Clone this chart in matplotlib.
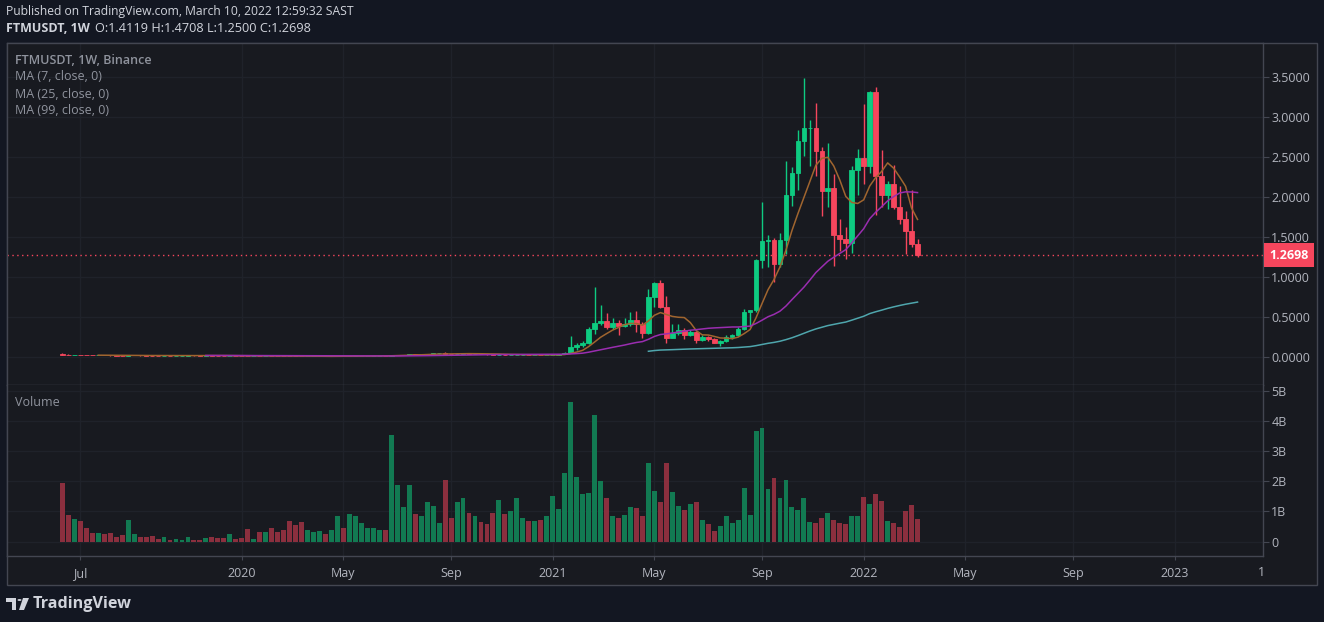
import numpy as np
import pandas as pd
import matplotlib
matplotlib.use("Agg")
import matplotlib.pyplot as plt
import matplotlib.transforms as mtransforms
from matplotlib.patches import Rectangle, Polygon, Circle

plt.rcParams["font.family"] = ["Open Sans", "DejaVu Sans"]

W, H = 1324, 622

# weekly bars, first one is the week of 2019-06-10
first_week = "2019-06-10"

opens = [
    .036, .020, .018, .021, .019, .017, .016, .018, .016, .015, .014, .013,
    .016, .017, .015, .014, .013, .012, .013, .012, .013, .014, .016, .015,
    .014, .015, .014, .013, .012, .013, .012, .011, .010, .011, .010, .012,
    .011, .010, .009, .007, .004, .0035, .004, .0045, .005, .0045, .005, .0065,
    .006, .007, .008, .009, .010, .011, .012, .011, .018, .022, .024, .030,
    .027, .030, .036, .040, .042, .036, .033, .037, .041, .037, .039, .034,
    .028, .024, .027, .022, .024, .026, .027, .022, .024, .018, .019, .021,
    .030, .052, .122, .143, .170, .346, .422, .447, .372, .426, .385, .41,
    .46, .41, .297, .748, .92, .623, .238, .297, .335, .27, .31, .213,
    .25, .225, .175, .20, .25, .268, .347, .556, .585, 1.21, 1.45, 1.46,
    1.16, 1.46, 2.02, 2.30, 2.70, 2.86, 2.87, 2.58, 2.07, 2.11, 1.53, 1.48,
    1.42, 2.34, 2.49, 2.39, 3.32, 2.27, 2.02, 2.17, 1.88, 1.72, 1.57, 1.4119,
]
highs = [
    .048, .030, .024, .023, .020, .018, .019, .019, .017, .016, .015, .017,
    .018, .018, .016, .015, .014, .014, .014, .014, .015, .017, .017, .016,
    .016, .016, .015, .014, .014, .014, .013, .012, .012, .012, .013, .013,
    .012, .011, .010, .008, .005, .0045, .005, .0055, .0055, .0055, .007, .007,
    .0075, .0085, .0095, .011, .012, .013, .013, .020, .024, .026, .033, .032,
    .032, .038, .043, .046, .059, .039, .040, .044, .043, .041, .040, .035,
    .029, .029, .028, .026, .027, .029, .028, .025, .025, .020, .022, .032,
    .058, .26, .17, .197, .368, .874, .648, .548, .48, .46, .49, .56,
    .573, .439, .848, .94, .96, .76, .41, .41, .36, .335, .32, .267,
    .26, .24, .21, .27, .29, .368, .594, .59, 1.23, 1.94, 1.52, 1.49,
    1.55, 2.45, 2.38, 2.84, 3.49, 2.97, 3.18, 2.63, 2.68, 2.29, 1.72, 1.62,
    2.39, 2.60, 3.17, 3.33, 3.38, 2.59, 2.20, 2.40, 2.14, 1.82, 2.09, 1.4708,
]
lows = [
    .016, .016, .017, .018, .016, .015, .015, .015, .014, .013, .012, .012,
    .015, .014, .013, .012, .012, .011, .011, .011, .012, .013, .014, .013,
    .013, .013, .012, .011, .011, .011, .010, .009, .009, .009, .010, .010,
    .009, .008, .006, .003, .003, .003, .0035, .004, .004, .004, .0045, .0055,
    .0055, .0065, .0075, .0085, .0095, .010, .010, .011, .016, .020, .022, .025,
    .026, .028, .034, .037, .033, .030, .031, .035, .034, .034, .032, .026,
    .022, .023, .021, .021, .022, .025, .021, .021, .017, .017, .018, .020,
    .028, .045, .083, .117, .163, .288, .40, .343, .343, .276, .376, .38,
    .314, .234, .28, .623, .607, .176, .23, .27, .217, .26, .175, .197,
    .20, .17, .138, .18, .22, .255, .34, .376, .56, 1.115, 1.12, .94,
    1.12, 1.29, 1.89, 2.09, 2.52, 2.39, 2.26, 1.76, 1.88, 1.14, 1.33, 1.23,
    1.30, 2.02, 2.17, 2.30, 1.77, 1.88, 1.85, 1.85, 1.66, 1.29, 1.38, 1.25,
]
closes = [
    .020, .018, .021, .019, .017, .016, .018, .016, .015, .014, .013, .016,
    .017, .015, .014, .013, .012, .013, .012, .013, .014, .016, .015, .014,
    .015, .014, .013, .012, .013, .012, .011, .010, .011, .010, .012, .011,
    .010, .009, .007, .004, .0035, .004, .0045, .005, .0045, .005, .0065, .006,
    .007, .008, .009, .010, .011, .012, .011, .018, .022, .024, .030, .027,
    .030, .036, .040, .042, .036, .033, .037, .041, .037, .039, .034, .028,
    .024, .027, .022, .024, .026, .027, .022, .024, .018, .019, .021, .030,
    .052, .122, .143, .170, .346, .422, .447, .372, .426, .385, .41, .46,
    .41, .297, .748, .92, .623, .238, .297, .335, .27, .31, .213, .25,
    .225, .175, .20, .25, .268, .347, .556, .585, 1.21, 1.45, 1.46, 1.16,
    1.46, 2.02, 2.30, 2.70, 2.86, 2.87, 2.58, 2.07, 2.11, 1.53, 1.48, 1.42,
    2.34, 2.49, 2.39, 3.32, 2.27, 2.02, 2.17, 1.88, 1.72, 1.57, 1.41, 1.2698,
]
# volume in billions
volumes = [
    1.95, .88, .75, .68, .45, .28, .28, .25, .28, .15, .22, .72,
    .25, .15, .15, .18, .08, .15, .05, .08, .05, .15, .05, .05,
    .12, .15, .12, .12, .25, .08, .12, .42, .08, .32, .32, .45,
    .32, .38, .68, .55, .65, .38, .32, .35, .25, .38, .85, .45,
    .92, .85, .62, .45, .45, .38, .38, 3.55, 1.88, 1.15, 1.88, .92,
    .85, 1.32, 1.18, .62, 2.05, .78, 1.32, 1.45, .95, .85, .65, .58,
    .95, 1.38, .92, 1.02, 1.45, .78, .68, .68, .72, .85, 1.52, 1.08,
    2.28, 4.62, 2.15, 1.58, 1.62, 4.18, 2.02, 1.45, .85, .78, .88, 1.15,
    1.12, .85, 2.62, 1.68, 1.32, 2.62, 1.65, 1.18, 1.05, 1.25, 1.32, .72,
    .58, .35, .52, .85, .62, .72, 1.78, .88, 3.65, 3.78, 1.75, 2.12,
    1.45, 2.05, 1.15, 1.05, 1.45, .65, .62, .78, .95, .72, .62, .58,
    .85, .85, 1.48, 1.25, 1.58, 1.35, .68, .62, .48, 1.02, 1.22, .75,
]

ma_periods = [7, 25, 99]
ma_colors = ["#a0652f", "#9a2db0", "#4fa6ad"]

time_label_months = ["2019-07", "2020-01", "2020-05", "2020-09", "2021-01", "2021-05",
                     "2021-09", "2022-01", "2022-05", "2022-09", "2023-01"]
time_labels = ["Jul", "2020", "May", "Sep", "2021", "May", "Sep", "2022", "May", "Sep", "2023"]
price_ticks = [0, 0.5, 1.0, 1.5, 2.0, 2.5, 3.0, 3.5]
vol_ticks = [0, 1, 2, 3, 4, 5]
vol_labels = ["0", "1B", "2B", "3B", "4B", "5B"]

UP, DOWN = "#0ecb81", "#f6465d"
UP_V, DOWN_V = "#127a52", "#8b2f3e"
BG_OUT, BG_IN = "#131722", "#181a20"
LINE = "#434651"
GRID = "#1f222a"
TXT = "#b2b5be"
LEG = "#8f939d"

df = pd.DataFrame({"open": opens, "high": highs, "low": lows, "close": closes, "vol": volumes})
df["date"] = pd.date_range(first_week, periods=len(df), freq="W-MON")
idx = np.arange(len(df))
up = df["close"] >= df["open"]

# bar index of the first weekly bar in each labelled month
all_weeks = pd.date_range(first_week, periods=240, freq="W-MON")
tick_pos = [int(np.argmax(all_weeks >= pd.Timestamp(m + "-01"))) for m in time_label_months]


def fx(x):
    return x / W


def fy(y):
    return 1 - y / H


fig = plt.figure(figsize=(W / 100, H / 100), dpi=100, facecolor=BG_OUT)
fig.patches.append(Rectangle((fx(7), fy(585)), fx(1310), (585 - 43) / H, transform=fig.transFigure,
                             facecolor=BG_IN, edgecolor=LINE, lw=1, zorder=-5))

ax_p = fig.add_axes([fx(7), fy(385), fx(1256), 342 / H])
ax_v = fig.add_axes([fx(7), fy(556), fx(1256), 171 / H], sharex=ax_p)

for ax in (ax_p, ax_v):
    ax.set_facecolor(BG_IN)
    for s in ax.spines.values():
        s.set_color(LINE)
        s.set_linewidth(1)
    ax.yaxis.tick_right()
    ax.tick_params(axis="y", colors=LINE, labelcolor=TXT, labelsize=9, length=4, pad=2)
    ax.grid(True, color=GRID, lw=1)
    ax.set_axisbelow(True)

# candles
cols = np.where(up, UP, DOWN)
ax_p.vlines(idx, df["low"], df["high"], colors=cols, lw=1, zorder=2)
body_lo = np.minimum(df["open"], df["close"])
body_h = np.abs(df["close"] - df["open"])
ax_p.bar(idx, body_h, bottom=body_lo, width=0.78, color=cols, edgecolor=cols, lw=0.6, zorder=2)

for p, c in zip(ma_periods, ma_colors):
    ma = df["close"].rolling(p).mean()
    ax_p.plot(idx, ma, color=c, lw=1.1, zorder=3)

last = closes[-1]
ax_p.axhline(last, color=DOWN, lw=1, ls=(0, (1, 2.5)), zorder=1)
tr = mtransforms.blended_transform_factory(ax_p.transAxes, ax_p.transData)
ax_p.text(1.0052, last, f"{last:.4f}", transform=tr, ha="left", va="center", color="white",
          fontsize=9, fontweight="bold", clip_on=False,
          bbox=dict(boxstyle="square,pad=0.45", fc=DOWN, ec="none"))

ax_p.set_ylim(-0.355, 3.931)
ax_p.set_yticks(price_ticks)
ax_p.set_yticklabels([f"{t:.4f}" for t in price_ticks])
ax_p.tick_params(axis="x", length=0, labelbottom=False)

# volume
ax_v.bar(idx, df["vol"], width=0.82, color=np.where(up, UP_V, DOWN_V), zorder=2)
ax_v.set_ylim(-0.474, 5.19)
ax_v.set_yticks(vol_ticks)
ax_v.set_yticklabels(vol_labels)
ax_v.spines["top"].set_visible(False)
ax_v.set_xticks(tick_pos)
ax_v.set_xticklabels(time_labels)
ax_v.tick_params(axis="x", colors=LINE, labelcolor=TXT, labelsize=9, length=3, pad=5)
ax_p.set_xlim(-9.26, 200.77)

# clipped label at the right edge of the time axis
t = fig.text(fx(1265), fy(572), "10", color=TXT, fontsize=9, ha="center", va="center")
t.set_clip_box(mtransforms.Bbox([[0, 0], [1263, H]]))
t.set_clip_on(True)

# texts
fig.text(fx(6), fy(12), "Published on TradingView.com, March 10, 2022 12:59:32 SAST",
         color="#d1d4dc", fontsize=8.7, va="center")
fig.text(fx(6), fy(29), "FTMUSDT, 1W", color="#d1d4dc", fontsize=9, fontweight="bold", va="center")
fig.text(fx(95), fy(29), "O:1.4119 H:1.4708 L:1.2500 C:1.2698", color="#d1d4dc", fontsize=9.2, va="center")

fig.text(fx(15), fy(60), "FTMUSDT, 1W, Binance", color=LEG, fontsize=9, fontweight="semibold", va="center")
for k, p in enumerate(ma_periods):
    fig.text(fx(15), fy(77 + 17 * k), f"MA ({p}, close, 0)", color=LEG, fontsize=9, va="center")
fig.text(fx(15), fy(402), "Volume", color=LEG, fontsize=9, va="center")

# TradingView logo
logo = "#d1d4dc"
fig.patches.append(Polygon([(fx(6), fy(598)), (fx(16), fy(598)), (fx(16), fy(610)), (fx(12), fy(610)),
                            (fx(12), fy(602)), (fx(6), fy(602))], closed=True, transform=fig.transFigure,
                           fc=logo, ec="none"))
fig.patches.append(Circle((fx(19.5), fy(600)), 2 / W, transform=fig.transFigure, fc=logo, ec="none"))
fig.patches.append(Polygon([(fx(23), fy(598)), (fx(29), fy(598)), (fx(24), fy(610)), (fx(19), fy(610))],
                           closed=True, transform=fig.transFigure, fc=logo, ec="none"))
fig.text(fx(33), fy(604), "TradingView", color=logo, fontsize=11.6, fontweight="bold", va="center")

fig.savefig("out.png", dpi=100, facecolor=BG_OUT)
plt.close(fig)
